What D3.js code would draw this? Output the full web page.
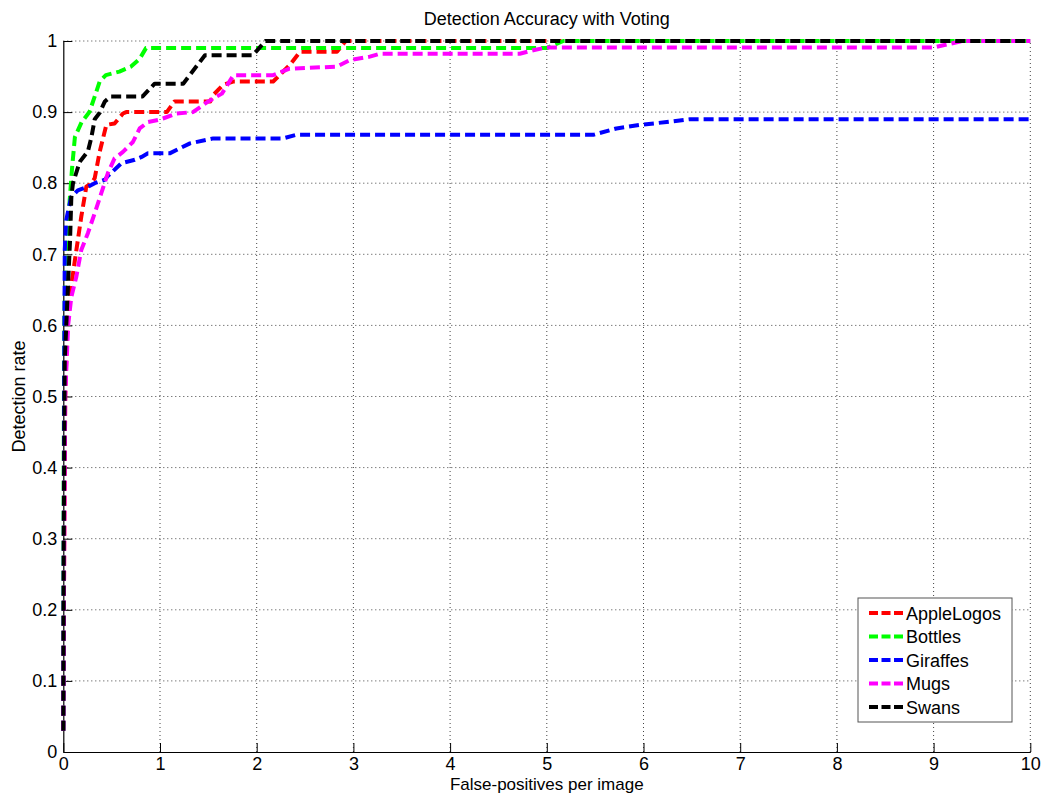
<!DOCTYPE html>
<html>
<head>
<meta charset="utf-8">
<script src="https://cdn.jsdelivr.net/npm/d3@7"></script>
<style>
  body { margin: 0; background: #fff; }
  svg { display: block; font-family: "Liberation Sans", Arial, Helvetica, sans-serif; }
</style>
</head>
<body>
<svg id="chart" width="1041" height="795"></svg>
<script>
// ----------------------------
// Data: [false-positives per image, detection rate]
// ----------------------------
var appleLogos = [[0,0.03],[0.01,0.3],[0.02,0.5],[0.04,0.6],[0.066,0.64],[0.118,0.69],[0.186,0.753],[0.238,0.795],[0.29,0.80],[0.325,0.807],[0.376,0.844],[0.445,0.882],[0.53,0.884],[0.617,0.898],[0.65,0.90],[1.07,0.90],[1.15,0.915],[1.52,0.915],[1.55,0.924],[1.65,0.938],[1.755,0.943],[2.17,0.943],[2.34,0.966],[2.45,0.985],[2.83,0.985],[2.92,1.0],[10,1.0]];
var bottles = [[0,0.03],[0.004,0.4],[0.01,0.6],[0.015,0.64],[0.04,0.72],[0.066,0.776],[0.09,0.82],[0.12,0.865],[0.19,0.886],[0.27,0.90],[0.32,0.92],[0.376,0.943],[0.44,0.952],[0.58,0.957],[0.70,0.964],[0.79,0.975],[0.855,0.99],[5.0,0.99],[5.17,1.0],[10,1.0]];
var giraffes = [[0,0.03],[0.005,0.3],[0.01,0.55],[0.015,0.706],[0.03,0.748],[0.08,0.78],[0.15,0.79],[0.255,0.795],[0.325,0.80],[0.43,0.805],[0.46,0.81],[0.6,0.828],[0.74,0.833],[0.81,0.837],[0.875,0.842],[1.1,0.842],[1.31,0.856],[1.55,0.863],[2.27,0.863],[2.41,0.868],[5.48,0.868],[5.72,0.877],[5.96,0.882],[6.24,0.886],[6.48,0.890],[6.66,0.890],[10,0.890]];
var mugs = [[0,0.03],[0.01,0.3],[0.02,0.5],[0.05,0.6],[0.083,0.64],[0.134,0.668],[0.186,0.706],[0.255,0.73],[0.325,0.758],[0.393,0.786],[0.46,0.814],[0.53,0.835],[0.617,0.844],[0.72,0.858],[0.79,0.877],[0.876,0.886],[0.98,0.889],[1.03,0.891],[1.17,0.898],[1.34,0.90],[1.5,0.915],[1.64,0.926],[1.76,0.952],[2.17,0.952],[2.34,0.961],[2.83,0.964],[2.96,0.973],[3.17,0.978],[3.27,0.982],[4.72,0.982],[4.86,0.987],[5.0,0.991],[9.0,0.991],[9.3,1.0],[10,1.0]];
var swans = [[0,0.03],[0.005,0.3],[0.015,0.55],[0.05,0.66],[0.07,0.72],[0.083,0.78],[0.1,0.80],[0.17,0.83],[0.255,0.845],[0.29,0.864],[0.325,0.89],[0.376,0.899],[0.43,0.915],[0.49,0.922],[0.82,0.922],[0.945,0.94],[1.24,0.94],[1.465,0.98],[1.96,0.98],[2.09,1.0],[10,1.0]];

var seriesNames = ["AppleLogos", "Bottles", "Giraffes", "Mugs", "Swans"];
var seriesColors = ["#ff0000", "#00ff00", "#0000ff", "#ff00ff", "#000000"];
var seriesData = [appleLogos, bottles, giraffes, mugs, swans];

var xTicks = [0,1,2,3,4,5,6,7,8,9,10];
var yTicks = [0,0.1,0.2,0.3,0.4,0.5,0.6,0.7,0.8,0.9,1];

// ----------------------------
// Layout
// ----------------------------
var plotLeft = 63.3, plotRight = 1030.3, plotTop = 41, plotBottom = 752;
var fontSize = 18;

var svg = d3.select("#chart");

var x = d3.scaleLinear().domain([0, 10]).range([plotLeft, plotRight]);
var y = d3.scaleLinear().domain([0, 1]).range([plotBottom, plotTop]);

// Grid (dotted)
svg.append("g")
    .selectAll("line")
    .data(xTicks.slice(1))
    .join("line")
    .attr("x1", d => x(d)).attr("x2", d => x(d))
    .attr("y1", plotBottom).attr("y2", plotTop)
    .attr("stroke", "#444").attr("stroke-width", 1)
    .attr("stroke-dasharray", "1,3");

svg.append("g")
    .selectAll("line")
    .data(yTicks.slice(1))
    .join("line")
    .attr("x1", plotLeft).attr("x2", plotRight)
    .attr("y1", d => y(d)).attr("y2", d => y(d))
    .attr("stroke", "#444").attr("stroke-width", 1)
    .attr("stroke-dasharray", "1,3");

// Axes (ticks inside, MATLAB style)
var xAxis = svg.append("g")
    .attr("transform", `translate(0,${plotBottom})`)
    .call(d3.axisBottom(x).tickValues(xTicks).tickFormat(d3.format("d")).tickSizeInner(-9).tickSizeOuter(0).tickPadding(5));
var yAxis = svg.append("g")
    .attr("transform", `translate(${plotLeft},0)`)
    .call(d3.axisLeft(y).tickValues(yTicks)
        .tickFormat(d => (d === 0 || d === 1) ? d3.format("d")(d) : d3.format(".1f")(d))
        .tickSizeInner(-9).tickSizeOuter(0).tickPadding(6));

[xAxis, yAxis].forEach(function (g) {
    g.select(".domain").attr("stroke", "#000").attr("stroke-width", 1.2);
    g.selectAll(".tick line").attr("stroke", "#000").attr("stroke-width", 1);
    g.selectAll(".tick text").attr("fill", "#000").attr("font-size", fontSize)
        .attr("font-family", "Liberation Sans, Arial, sans-serif");
});

// ----------------------------
// Curves
// ----------------------------
var line = d3.line()
    .x(d => x(d[0]))
    .y(d => y(d[1]));

svg.append("g")
    .selectAll("path")
    .data(seriesData)
    .join("path")
    .attr("d", line)
    .attr("fill", "none")
    .attr("stroke", (d, i) => seriesColors[i])
    .attr("stroke-width", 4)
    .attr("stroke-dasharray", "10,5")
    .attr("stroke-linejoin", "round");

// ----------------------------
// Titles
// ----------------------------
svg.append("text")
    .attr("x", (plotLeft + plotRight) / 2).attr("y", 25)
    .attr("text-anchor", "middle").attr("font-size", fontSize)
    .text("Detection Accuracy with Voting");

svg.append("text")
    .attr("x", (plotLeft + plotRight) / 2).attr("y", 790)
    .attr("text-anchor", "middle").attr("font-size", 17)
    .text("False-positives per image");

svg.append("text")
    .attr("transform", `translate(25,${(plotTop + plotBottom) / 2}) rotate(-90)`)
    .attr("text-anchor", "middle").attr("font-size", fontSize)
    .text("Detection rate");

// ----------------------------
// Legend
// ----------------------------
var legend = svg.append("g").attr("transform", "translate(858,598)");
legend.append("rect")
    .attr("width", 154).attr("height", 124)
    .attr("fill", "#fff").attr("stroke", "#555").attr("stroke-width", 1);

var rows = legend.selectAll("g")
    .data(seriesNames)
    .join("g")
    .attr("transform", (d, i) => `translate(0,${15 + i * 23.5})`);

rows.append("line")
    .attr("x1", 11).attr("x2", 45)
    .attr("stroke", (d, i) => seriesColors[i])
    .attr("stroke-width", 4)
    .attr("stroke-dasharray", "9,3.5");

rows.append("text")
    .attr("x", 48).attr("y", 6.5)
    .attr("font-size", fontSize)
    .text(d => d);
</script>
</body>
</html>
